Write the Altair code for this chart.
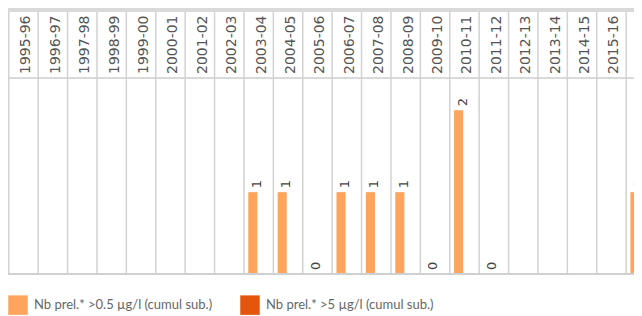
import altair as alt
import pandas as pd

seasons = ["1995-96", "1996-97", "1997-98", "1998-99", "1999-00", "2000-01",
           "2001-02", "2002-03", "2003-04", "2004-05", "2005-06", "2006-07",
           "2007-08", "2008-09", "2009-10", "2010-11", "2011-12", "2012-13",
           "2013-14", "2014-15", "2015-16", "2016-17"]
series_names = ["Nb prel.* >0.5 µg/l (cumul sub.)", "Nb prel.* >5 µg/l (cumul sub.)"]
values_05 = [None, None, None, None, None, None, None, None,
             1, 1, 0, 1, 1, 1, 0, 2, 0, None, None, None, None, 1]
values_5 = [None, None, None, None, None, None, None, None,
            0, 0, 0, 0, 0, 0, 0, 0, 0, None, None, None, None, 0]
colors = ["#ffa45c", "#e5560d"]

rows = []
for s, a, b in zip(seasons, values_05, values_5):
    if a is not None:
        rows.append({"season": s, "series": series_names[0], "value": a})
    if b is not None:
        rows.append({"season": s, "series": series_names[1], "value": b})
df = pd.DataFrame(rows)
df_seasons = pd.DataFrame({"season": seasons})

W = 626
H = 266
STEP = 29.4
xscale = alt.Scale(domain=seasons, range=[0.75, 0.75 + STEP * len(seasons)],
                   paddingInner=0, paddingOuter=0)
offscale = alt.Scale(domain=series_names, paddingInner=0.22, paddingOuter=0.37)
yscale = alt.Scale(domain=[0, 3.25], nice=False, zero=True)

band = alt.Chart(df_seasons).mark_rect(color="#d9d9d9").encode(
    x=alt.value(0), x2=alt.value(W), y=alt.value(0), y2=alt.value(3.5))

dividers = alt.Chart(df_seasons).mark_rule(color="#d2d2d2", strokeWidth=1.5).encode(
    x=alt.X("season:N", scale=xscale, axis=None, bandPosition=0),
    y=alt.value(4), y2=alt.value(H))

header_line = alt.Chart(df_seasons).mark_rule(color="#d9d9d9", strokeWidth=1.5).encode(
    x=alt.value(0), x2=alt.value(W), y=alt.value(70))

grid = alt.Chart(df).mark_bar(opacity=0).encode(
    y=alt.Y("value:Q", scale=yscale,
            axis=alt.Axis(values=[1, 2], grid=True, gridColor="#efefef", gridWidth=1,
                          labels=False, ticks=False, domain=False, title=None)))

header_text = alt.Chart(df_seasons).mark_text(
    angle=270, align="left", baseline="middle", dy=3, dx=0,
    font="DejaVu Sans", fontSize=14, color="#555555").encode(
    x=alt.X("season:N", scale=xscale, axis=None),
    y=alt.value(66), text="season:N")

bars = alt.Chart(df).mark_bar().encode(
    x=alt.X("season:N", scale=xscale, axis=None),
    xOffset=alt.XOffset("series:N", scale=offscale),
    y=alt.Y("value:Q", scale=yscale, axis=None),
    color=alt.Color("series:N",
                    scale=alt.Scale(domain=series_names, range=colors),
                    legend=alt.Legend(orient="none", legendX=0, legendY=287,
                                      direction="horizontal", title=None,
                                      symbolType="square", symbolSize=380,
                                      symbolStrokeWidth=0, labelFont="Lato",
                                      labelFontSize=13, labelColor="#666666",
                                      labelOffset=6, labelLimit=400,
                                      columnPadding=27, padding=0)))

labels = alt.Chart(df[df["series"] == series_names[0]]).mark_text(
    angle=270, align="left", baseline="middle", dx=4, dy=4,
    font="DejaVu Sans", fontSize=13, color="#444444").encode(
    x=alt.X("season:N", scale=xscale, axis=None),
    xOffset=alt.XOffset("series:N", scale=offscale),
    y=alt.Y("value:Q", scale=yscale, axis=None),
    text="value:Q")

baseline = alt.Chart(df_seasons).mark_rule(color="#d0d0d0", strokeWidth=2).encode(
    x=alt.value(0), x2=alt.value(W), y=alt.datum(0, scale=yscale))

chart = alt.layer(grid, band, header_line, bars, dividers, baseline, header_text, labels).properties(
    width=W, height=H,
    autosize=alt.AutoSizeParams(type="none"),
    padding={"left": 0, "top": 0, "right": 0, "bottom": 42},
    background="white",
).configure_view(strokeWidth=0)

chart.save("out.html", embed_options={"renderer": "svg", "actions": False})
